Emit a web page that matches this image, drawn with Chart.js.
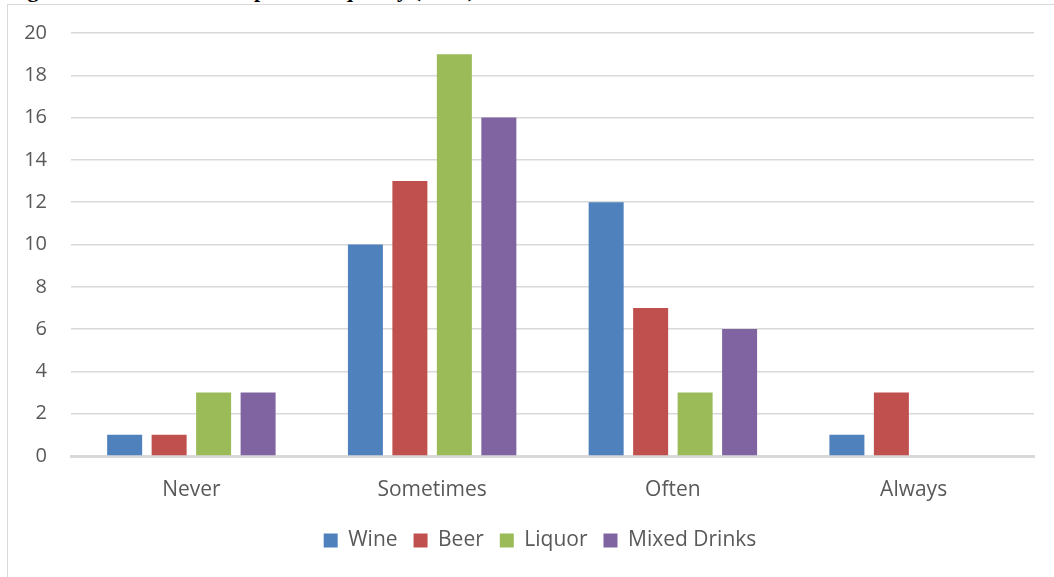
<!DOCTYPE html>
<html>
<head>
<meta charset="utf-8">
<script src="https://cdn.jsdelivr.net/npm/chart.js@4"></script>
<style>
html,body{margin:0;padding:0;background:#fff;overflow:hidden}
#wrap{position:relative;width:1054px;height:577px}
#frame{position:absolute;left:7px;top:4px;width:2000px;height:1000px;border-left:1px solid #d9d9d9;border-top:1px solid #d9d9d9}
#title{position:absolute;left:8px;top:-21px;font:bold 22px "Liberation Serif",serif;line-height:22px;color:#000;white-space:nowrap}
canvas{position:absolute;left:0;top:0}
</style>
</head>
<body>
<div id="wrap">
<div id="title">Figure 4: Alcohol Consumption Frequency (n=40)</div>
<div id="frame"></div>
<canvas id="chart" width="1054" height="577"></canvas>
</div>
<script>
const categories=["Never","Sometimes","Often","Always"]
const wine=[1,10,12,1]
const beer=[1,13,7,3]
const liquor=[3,19,3,0]
const mixed=[3,16,6,0]
const yTicks=[0,2,4,6,8,10,12,14,16,18,20]

const TEXT="#595959"
const GRID="#d9d9d9"
const FONT={family:"'Open Sans', sans-serif",size:21}
const YFONT={family:"'Open Sans', sans-serif",size:20}

// excel centres the legend a bit right of the canvas middle
const shiftLegend={
id:"shiftLegend",
afterLayout(chart){
chart.legend.left+=23
chart.legend.right+=23
}
}

const ctx=document.getElementById("chart").getContext("2d")

new Chart(ctx,{
type:"bar",
data:{
labels:categories,
datasets:[
{label:"Wine",data:wine,backgroundColor:"#4f81bd"},
{label:"Beer",data:beer,backgroundColor:"#c0504d"},
{label:"Liquor",data:liquor,backgroundColor:"#9bbb59"},
{label:"Mixed Drinks",data:mixed,backgroundColor:"#8064a2"}
]
},
options:{
responsive:false,
animation:false,
categoryPercentage:0.739,
barPercentage:0.787,
layout:{padding:{top:33,right:20,left:0,bottom:16}},
scales:{
x:{
grid:{display:false},
border:{color:GRID,width:3},
ticks:{color:TEXT,font:FONT,padding:13},
afterFit:s=>{s.height=58}
},
y:{
min:0,max:20,
afterBuildTicks:s=>{s.ticks=yTicks.map(v=>({value:v}))},
// invisible tick marks push the labels left without adding top padding
grid:{color:GRID,lineWidth:1.5,drawTicks:true,tickLength:20,tickColor:"rgba(0,0,0,0)"},
border:{display:false},
ticks:{color:TEXT,font:YFONT,padding:4},
afterFit:s=>{s.width=71}
}
},
plugins:{
legend:{
position:"bottom",
labels:{color:TEXT,font:FONT,boxWidth:14,boxHeight:14,padding:16}
},
tooltip:{enabled:false}
}
},
plugins:[shiftLegend]
})
</script>
</body>
</html>
